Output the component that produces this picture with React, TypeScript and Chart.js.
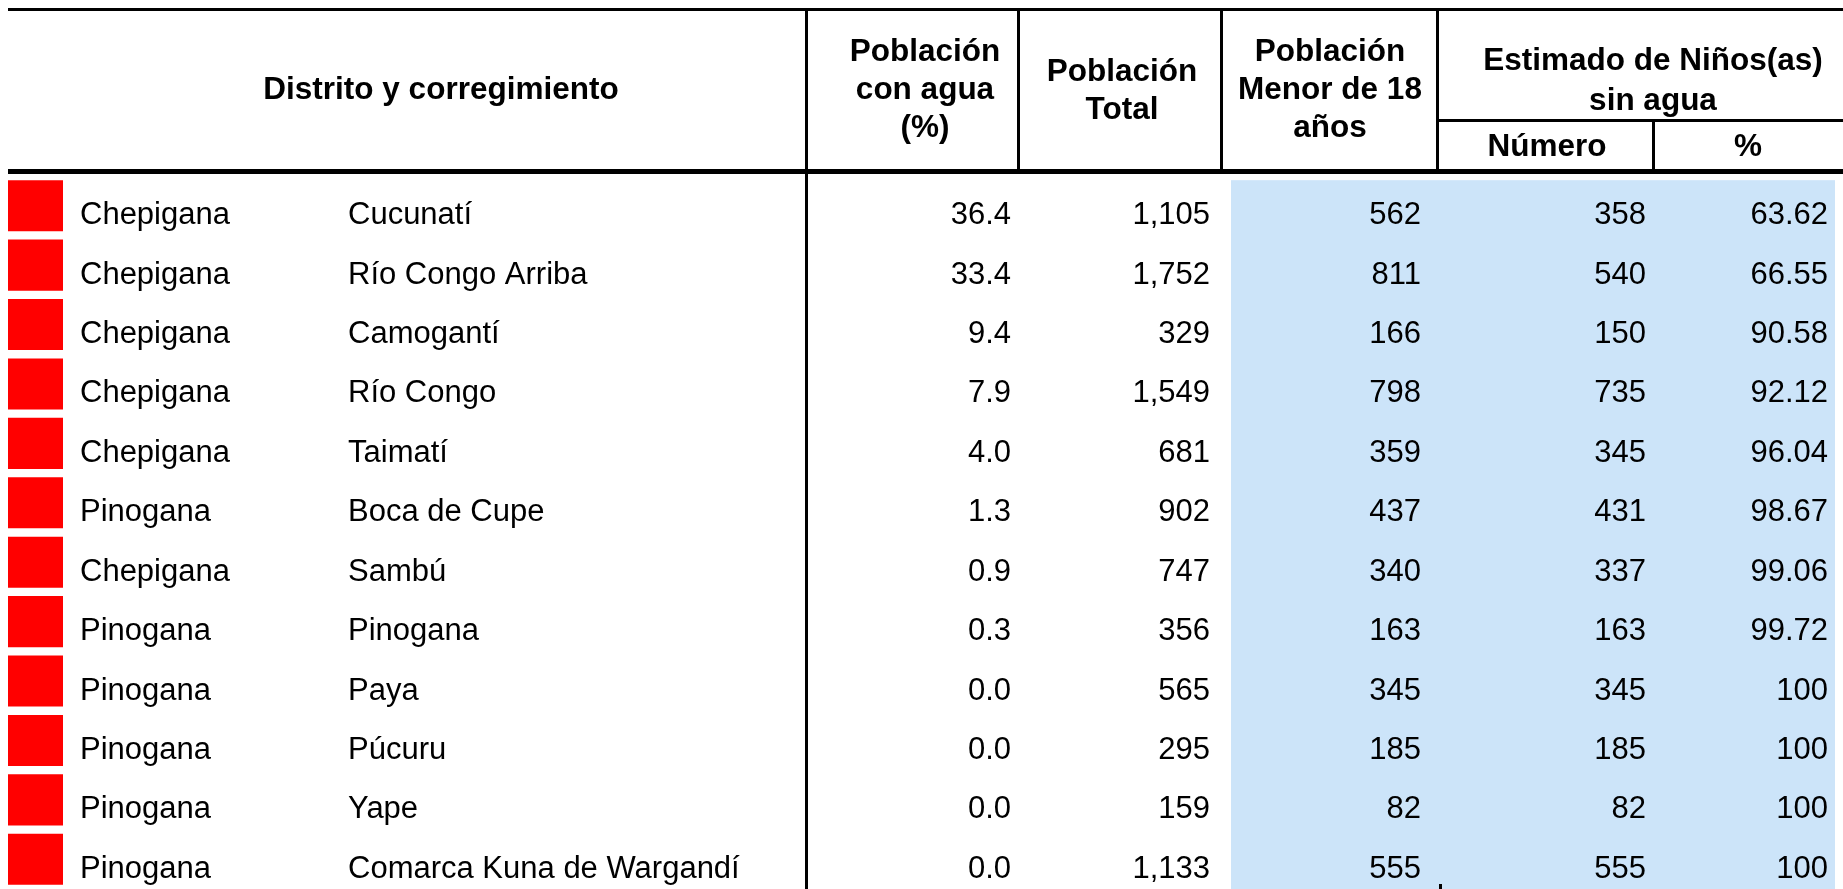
import React, { useEffect, useRef } from "react";
import { Chart, registerables } from "chart.js";

Chart.register(...registerables);

// ---------- data ----------
const distritos = [
  "Chepigana", "Chepigana", "Chepigana", "Chepigana", "Chepigana", "Pinogana",
  "Chepigana", "Pinogana", "Pinogana", "Pinogana", "Pinogana", "Pinogana",
];
const corregimientos = [
  "Cucunatí", "Río Congo Arriba", "Camogantí", "Río Congo", "Taimatí", "Boca de Cupe",
  "Sambú", "Pinogana", "Paya", "Púcuru", "Yape", "Comarca Kuna de Wargandí",
];
const poblacionConAgua = [36.4, 33.4, 9.4, 7.9, 4.0, 1.3, 0.9, 0.3, 0.0, 0.0, 0.0, 0.0];
const poblacionTotal = [1105, 1752, 329, 1549, 681, 902, 747, 356, 565, 295, 159, 1133];
const poblacionMenor18 = [562, 811, 166, 798, 359, 437, 340, 163, 345, 185, 82, 555];
const sinAguaNumero = [358, 540, 150, 735, 345, 431, 337, 163, 345, 185, 82, 555];
const sinAguaPct = [63.62, 66.55, 90.58, 92.12, 96.04, 98.67, 99.06, 99.72, 100, 100, 100, 100];

// header labels
const headDistrito = ["Distrito y corregimiento"];
const headConAgua = ["Población", "con agua", "(%)"];
const headTotal = ["Población", "Total"];
const headMenor = ["Población", "Menor de 18", "años"];
const headEstimado = ["Estimado de Niños(as)", "sin agua"];
const headNumero = ["Número"];
const headPct = ["%"];

// ---------- layout / style ----------
const W = 1843;
const H = 889;
const HEADER_H = 176;
const IND_X = [8, 63];
const BLUE_X = [1231, 1835];
const RED = "#FF0000";
const BLUE = "#CCE4F9";
const FONT = '"Liberation Sans", Arial, Helvetica, sans-serif';
const BODY_FONT = `31px ${FONT}`;
const HEAD_FONT = `bold 31.5px ${FONT}`;
const TEXT_X_DIST = 80;
const TEXT_X_CORR = 348;
const RIGHT_EDGES = [1011, 1210, 1421, 1646, 1828];
const BASE_OFF = 18.5;

const fmtInt = (v: number) => v.toLocaleString("en-US");
const fmtPct = (v: number) => (Number.isInteger(v) ? String(v) : v.toFixed(2));

const tablePlugin = {
  id: "tablePlugin",
  beforeDatasetsDraw(chart: any) {
    const { ctx, chartArea, scales } = chart;
    const x = scales.x;
    const y = scales.y;
    const meta = chart.getDatasetMeta(0);
    const first = meta.data[0];
    const top = first ? first.y - first.height / 2 : y.getPixelForValue(0);
    ctx.save();
    ctx.fillStyle = BLUE;
    const x0 = x.getPixelForValue(BLUE_X[0]);
    const x1 = x.getPixelForValue(BLUE_X[1]);
    ctx.fillRect(x0, top, x1 - x0, chartArea.bottom - top);
    ctx.restore();
  },
  afterDatasetsDraw(chart: any) {
    const { ctx, scales } = chart;
    const x = scales.x;
    const y = scales.y;
    const px = (v: number) => x.getPixelForValue(v);
    ctx.save();
    ctx.fillStyle = "#000";
    // rules
    ctx.fillRect(px(8), 8, px(W) - px(8), 3); // top rule
    ctx.fillRect(px(8), 169, px(W) - px(8), 5); // header bottom rule
    ctx.fillRect(px(805), 8, 3, H - 8); // first column divider (full height)
    ctx.fillRect(px(1017), 11, 3, 158);
    ctx.fillRect(px(1220), 11, 3, 158);
    ctx.fillRect(px(1436), 11, 3, 158);
    ctx.fillRect(px(1436), 119, px(W) - px(1436), 3);
    ctx.fillRect(px(1652), 122, 3, 47);
    ctx.fillRect(px(1439), 884, 3, 5);

    // header text
    ctx.font = HEAD_FONT;
    ctx.textAlign = "center";
    ctx.textBaseline = "alphabetic";
    const drawHead = (lines: string[], cx: number, baselines: number[]) => {
      lines.forEach((t, i) => ctx.fillText(t, px(cx), baselines[i]));
    };
    drawHead(headDistrito, 441, [99]);
    drawHead(headConAgua, 925, [61, 99, 137]);
    drawHead(headTotal, 1122, [81, 119]);
    drawHead(headMenor, 1330, [61, 99, 137]);
    drawHead(headEstimado, 1653, [70, 110]);
    drawHead(headNumero, 1547, [156]);
    drawHead(headPct, 1748, [156]);

    // body text
    ctx.font = BODY_FONT;
    corregimientos.forEach((_, i) => {
      const by = y.getPixelForValue(i) + BASE_OFF;
      ctx.textAlign = "left";
      ctx.fillText(distritos[i], px(TEXT_X_DIST), by);
      ctx.fillText(corregimientos[i], px(TEXT_X_CORR), by);
      ctx.textAlign = "right";
      const vals = [
        poblacionConAgua[i].toFixed(1),
        fmtInt(poblacionTotal[i]),
        fmtInt(poblacionMenor18[i]),
        fmtInt(sinAguaNumero[i]),
        fmtPct(sinAguaPct[i]),
      ];
      vals.forEach((v, k) => ctx.fillText(v, px(RIGHT_EDGES[k]), by));
    });
    ctx.restore();
  },
};

export default function App() {
  const ref = useRef<HTMLCanvasElement | null>(null);
  useEffect(() => {
    if (!ref.current) return;
    const chart = new Chart(ref.current, {
      type: "bar",
      data: {
        labels: corregimientos,
        datasets: [
          {
            label: "Indicador",
            data: corregimientos.map(() => [IND_X[0], IND_X[1]]) as any,
            backgroundColor: RED,
            borderWidth: 0,
            barPercentage: 0.86,
            categoryPercentage: 1,
          },
        ],
      },
      options: {
        indexAxis: "y",
        animation: false,
        responsive: false,
        devicePixelRatio: 1,
        layout: { padding: { top: HEADER_H, left: 0, right: 0, bottom: 0 } },
        scales: {
          x: { type: "linear", min: 0, max: W, display: false },
          y: { type: "category", display: false, offset: true },
        },
        plugins: {
          legend: { display: false },
          tooltip: { enabled: false },
          title: { display: false },
        },
      },
      plugins: [tablePlugin],
    });
    return () => chart.destroy();
  }, []);
  return (
    <div style={{ position: "fixed", left: 0, top: 0, width: W, height: H, background: "#fff" }}>
      <canvas ref={ref} width={W} height={H} style={{ width: W, height: H, display: "block" }} />
    </div>
  );
}
